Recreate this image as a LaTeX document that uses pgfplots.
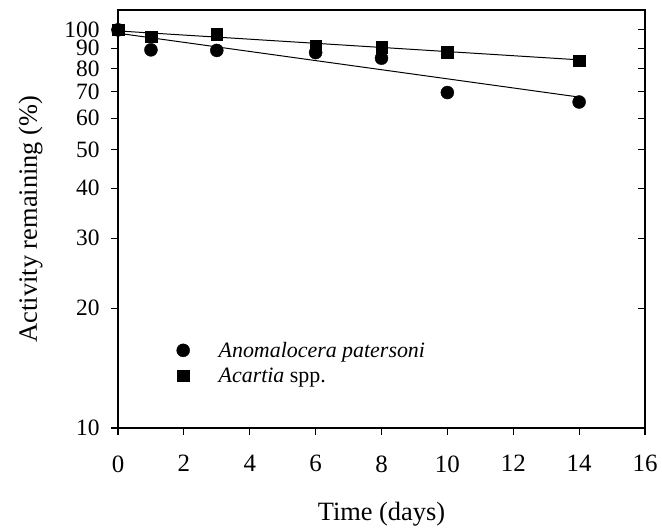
\documentclass[border=0pt]{standalone}
\usepackage{pgfplots}
\pgfplotsset{compat=1.18}
\usepackage{fontspec}
\setmainfont{Liberation Serif}
\begin{document}
\begin{tikzpicture}
\useasboundingbox (-118bp,-101bp) rectangle (544bp,428bp);
\begin{axis}[
  at={(0,0)}, anchor=south west,
  scale only axis, width=527bp, height=418bp,
  xmin=0, xmax=16, ymode=log, ymin=10, ymax=112.2,
  xtick={0,2,...,16},
  ytick={10,20,30,40,50,60,70,80,90,100},
  yticklabels={10,20,30,40,50,60,70,80,90,100},
  yminorticks=false, xminorticks=false,
  major tick length=7bp,
  axis line style={line width=1.1pt},
  every tick/.style={line width=1.1pt, black},
  /pgf/number format/assume math mode=true,
  xticklabel shift=17bp,
  xticklabel style={font=\fontsize{25}{27}\selectfont},
  yticklabel style={font=\fontsize{23.5}{26}\selectfont, xshift=-8bp},
  tick align=outside, xtick pos=bottom, ytick pos=left,
  xlabel={Time (days)}, ylabel={Activity remaining (\%)},
  label style={font=\fontsize{26.5}{30}\selectfont},
  xlabel style={yshift=-23bp},
  ylabel style={yshift=15bp},
  legend style={draw=none, fill=none, at={(0.111,0.211)}, anchor=north west,
    inner sep=0pt,
    font=\fontsize{22}{26}\selectfont, row sep=5bp, cells={anchor=west}},
]
\addplot[only marks, mark=*, mark size=6.5bp, black] coordinates {
(0,100) (1,89.1) (3,88.8) (6,87.7) (8,84.9) (10,69.6) (14,65.9)};
\addlegendentry{\hspace{27bp}\textit{Anomalocera patersoni}}
\addplot[only marks, mark=square*, mark size=5.8bp, black] coordinates {
(0,100) (1,96.2) (3,97.5) (6,91.2) (8,90.5) (10,87.9) (14,83.7)};
\addlegendentry{\hspace{27bp}\textit{Acartia} spp.}
\addplot[black, line width=1pt, forget plot] coordinates {(0,98.1) (14,67.8)};
\addplot[black, line width=1pt, forget plot] coordinates {(0,99.4) (14,84.1)};
\end{axis}
\begin{axis}[
  at={(0,0)}, anchor=south west,
  scale only axis, width=527bp, height=418bp,
  xmin=0, xmax=16, ymode=log, ymin=10, ymax=112.2,
  ytick={10,20,30,40,50,60,70,80,90,100},
  yticklabels={},
  yminorticks=false,
  major tick length=7bp,
  axis line style={line width=1.1pt},
  every tick/.style={line width=1.1pt, black},
  hide x axis, axis y line*=right, tick align=inside,
]
\end{axis}
\end{tikzpicture}
\end{document}
